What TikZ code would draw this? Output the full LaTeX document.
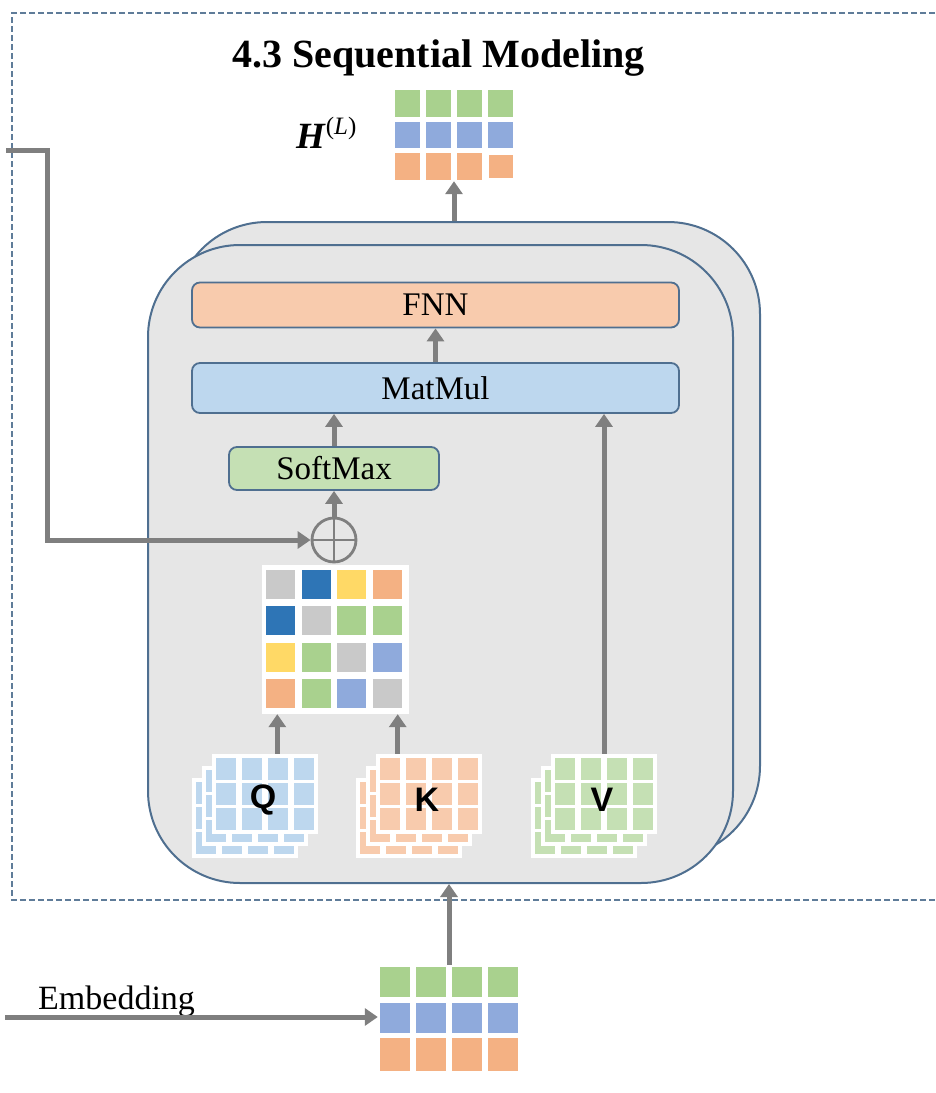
\documentclass[tikz,border=0pt]{standalone}
\usepackage{fontspec}
\setmainfont{Liberation Serif}
\newfontfamily\labelsans{Liberation Sans}
\usetikzlibrary{arrows.meta}

\definecolor{cgreen}{HTML}{A9D18E}
\definecolor{cblue}{HTML}{8FAADC}
\definecolor{corange}{HTML}{F4B183}
\definecolor{cgray}{HTML}{C9C9C9}
\definecolor{cdblue}{HTML}{2E75B6}
\definecolor{cyellow}{HTML}{FFD966}
\definecolor{lblue}{HTML}{BDD7EE}
\definecolor{lpeach}{HTML}{F8CBAD}
\definecolor{lgreen}{HTML}{C5E0B4}
\definecolor{arrowgray}{HTML}{7F7F7F}
\definecolor{edgeblue}{HTML}{4F6F90}
\definecolor{panel}{HTML}{E6E6E6}
\definecolor{framedash}{HTML}{5F7C99}

% one Q/K/V stack: #1 = left x of front cells, #2 = colour, #3 = name, #4 = letter
\newcommand\drawstack[4]{%
  \foreach \l in {2,1,0} {%
    \pgfmathsetmacro\ox{#1-10*\l}%
    \pgfmathsetmacro\oy{758+12*\l}%
    \fill[white] (\ox-4,\oy-4) rectangle (\ox+102,\oy+76);
    \foreach \i in {0,...,3} {%
      \foreach \j in {0,1,2} {%
        \fill[#2] (\ox+26*\i,\oy+25*\j) rectangle ++(20,22);
      }%
    }%
  }%
  \node[minimum width=106pt, minimum height=80pt, inner sep=0] (#3) at (#1+49,794) {};
  \node[font=\labelsans\bfseries\fontsize{34}{34}\selectfont, inner sep=0] (#3label) at (#1+47,800) {#4};
}

\begin{document}
\begin{tikzpicture}[x=1pt,y=-1pt,
  flow/.style={draw=arrowgray, line width=5pt, -{Triangle[length=13pt,width=17pt]}},
  layerbox/.style={draw=edgeblue, line width=2pt, fill=panel, rounded corners=92pt, inner sep=0},
  opbox/.style={draw=edgeblue, line width=1.8pt, rounded corners=8pt, inner sep=0,
                font=\fontsize{33}{36}\selectfont},
  plain/.style={inner sep=0}]
\useasboundingbox (0,0) rectangle (935,1093);

% dashed frame of the section
\draw[framedash, line width=2pt, dash pattern=on 6pt off 3pt]
  (935,13) -- (12,13) -- (12,900) -- (935,900);

% title
\node[plain, anchor=base west, font=\bfseries\fontsize{40}{40}\selectfont] (title) at (232,67) {4.3 Sequential Modeling};

% stacked encoder layers
\node[layerbox, minimum width=585pt, minimum height=636pt] (back) at (467.5,540) {};
\node[layerbox, minimum width=585pt, minimum height=638pt] (front) at (440.5,564) {};

% output matrix H^(L)
\node[plain, minimum width=120pt, minimum height=92pt] (hmat) at (454,135) {};
\foreach \i in {0,...,3} {
  \fill[cgreen] (395+31*\i,90) rectangle ++(25,27);
  \fill[cblue] (395+31*\i,122) rectangle ++(25,26);
}
\foreach \i in {0,1,2} {\fill[corange] (395+31*\i,153) rectangle ++(25,27);}
\fill[corange] (489,155) rectangle ++(24,23);
\node[plain, anchor=base west] (hlabel) at (296,148)
  {\fontsize{37}{37}\selectfont\textbf{\textit{H}}\raisebox{14pt}{\fontsize{25}{25}\selectfont(\textit{L})}};

% operation boxes
\node[opbox, fill=lpeach, minimum width=487pt, minimum height=45pt] (fnn) at (435.5,305) {FNN};
\node[opbox, fill=lblue, minimum width=487pt, minimum height=50pt] (matmul) at (435.5,388) {MatMul};
\node[opbox, fill=lgreen, minimum width=210pt, minimum height=43pt] (softmax) at (334,468.5) {SoftMax};

% residual sum
\node[circle, draw=arrowgray, line width=2.8pt, minimum size=44pt, inner sep=0] (plus) at (334,540) {};
\draw[arrowgray, line width=2.5pt] (plus.north) -- (plus.south) (plus.west) -- (plus.east);

% attention score matrix (row by row)
\node[plain, fill=white, minimum width=147pt, minimum height=149pt] (att) at (335,639.5) {};
\foreach \c [count=\n from 0] in {cgray,cdblue,cyellow,corange,
                                 cdblue,cgray,cgreen,cgreen,
                                 cyellow,cgreen,cgray,cblue,
                                 corange,cgreen,cblue,cgray} {
  \pgfmathtruncatemacro\r{\n/4}
  \pgfmathtruncatemacro\k{mod(\n,4)}
  \fill[\c] (266+35.7*\k,570+36.3*\r) rectangle ++(29,29);
}

% query, key and value stacks
\drawstack{216}{lblue}{qs}{Q}
\drawstack{380}{lpeach}{ks}{K}
\drawstack{555}{lgreen}{vs}{V}

% input embedding matrix
\node[plain, minimum width=142pt, minimum height=108pt] (emat) at (449,1019) {};
\foreach \i in {0,...,3} {
  \fill[cgreen] (380+36*\i,967) rectangle ++(30,30);
  \fill[cblue] (380+36*\i,1003) rectangle ++(30,30);
  \fill[corange] (380+36*\i,1038) rectangle ++(30,33);
}
\node[plain, anchor=base west, font=\fontsize{34}{36}\selectfont] (emblabel) at (38,1009) {Embedding};

% connectors
\coordinate (feed) at (6,150);
\coordinate (bend) at (47,540);
\coordinate (embin) at (5,1017);
\draw[flow] (feed) -| (bend) -- (plus.west);
\draw[flow] (plus.north) -- (plus.north |- softmax.south);
\draw[flow] (softmax.north) -- (softmax.north |- matmul.south);
\draw[flow] (matmul.north) -- (fnn.south);
\draw[flow] (hmat.south |- back.north) -- (hmat.south);
\draw[flow] ([xshift=16pt]att.south west |- qs.north) -- ([xshift=16pt]att.south west);
\draw[flow] ([xshift=-11pt]att.south east |- ks.north) -- ([xshift=-11pt]att.south east);
\draw[flow] (vs.north) -- (vs.north |- matmul.south);
\draw[flow] (embin) -- (embin -| emat.west);
\draw[flow] (emat.north) -- (emat.north |- front.south);
\end{tikzpicture}
\end{document}
